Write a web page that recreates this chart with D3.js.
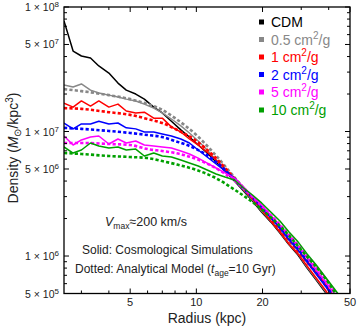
<!DOCTYPE html>
<html>
<head>
<meta charset="utf-8">
<script src="https://cdn.jsdelivr.net/npm/d3@7"></script>
<style>
  body { margin: 0; background: #fff; }
  svg { font-family: "Liberation Sans", Arial, sans-serif; }
</style>
</head>
<body>
<svg id="chart" width="357" height="333"></svg>
<script>
// radius grids (kpc)
const simRadius = [2.5, 2.75, 3.0, 3.3, 3.6, 4.0, 4.4, 4.8, 5.3, 5.8, 6.4, 7.0, 7.7, 8.5, 9.3, 10.2,
  11.2, 12.3, 13.5, 14.9, 16.4, 18.0, 19.8, 21.8, 24.0, 26.4, 29.0, 31.9, 35.1, 38.6, 42.5, 46.7];
const modelRadius = [2.5, 3, 4, 5, 6, 7, 8, 10, 12, 15, 20, 25, 30, 40, 50];

// solid: cosmological simulations (Msun/kpc^3)
const simCDM = [7.72e7, 4.43e7, 4.04e7, 3.89e7, 3.36e7, 2.95e7, 2.45e7, 2.15e7, 2.0e7, 1.82e7, 1.57e7, 1.41e7,
  1.21e7, 1.03e7, 9.03e6, 7.79e6, 6.72e6, 5.69e6, 4.82e6, 4.0e6, 3.33e6, 2.77e6, 2.26e6, 1.88e6, 1.53e6,
  1.23e6, 1.02e6, 8.0e5, 6.4e5, 5.1e5, 4.0e5, 3.2e5];
const sim05 = [2.36e7, 2.28e7, 2.41e7, 2.15e7, 2.04e7, 1.96e7, 1.89e7, 1.82e7, 1.76e7, 1.66e7, 1.54e7, 1.41e7,
  1.26e7, 1.11e7, 9.73e6, 8.39e6, 7.1e6, 5.9e6, 4.91e6, 4.08e6, 3.39e6, 2.82e6, 2.3e6, 1.91e6, 1.56e6,
  1.25e6, 1.04e6, 8.16e5, 6.54e5, 5.24e5, 4.12e5, 3.3e5];
const sim1 = [1.69e7, 1.57e7, 1.76e7, 1.6e7, 1.76e7, 1.57e7, 1.66e7, 1.46e7, 1.41e7, 1.43e7, 1.28e7, 1.28e7,
  1.09e7, 9.91e6, 8.71e6, 7.79e6, 6.84e6, 5.9e6, 5.0e6, 4.15e6, 3.45e6, 2.87e6, 2.34e6, 1.91e6, 1.56e6,
  1.25e6, 1.04e6, 8.31e5, 6.66e5, 5.33e5, 4.19e5, 3.36e5];
const sim2 = [1.17e7, 1.05e7, 1.15e7, 1.15e7, 1.21e7, 1.15e7, 1.17e7, 1.07e7, 1.05e7, 9.91e6, 9.91e6, 9.55e6,
  9.2e6, 8.71e6, 8.09e6, 7.1e6, 6.24e6, 5.48e6, 4.82e6, 4.23e6, 3.52e6, 2.98e6, 2.48e6, 2.06e6, 1.68e6,
  1.35e6, 1.12e6, 8.95e5, 7.17e5, 5.74e5, 4.6e5, 3.68e5];
const sim5 = [9.2e6, 7.79e6, 8.55e6, 9.03e6, 9.2e6, 7.94e6, 8.71e6, 8.09e6, 8.39e6, 7.79e6, 7.65e6, 7.51e6,
  7.37e6, 6.97e6, 6.6e6, 6.12e6, 5.58e6, 5.09e6, 4.65e6, 4.23e6, 3.58e6, 3.03e6, 2.57e6, 2.13e6, 1.77e6,
  1.45e6, 1.2e6, 9.64e5, 7.72e5, 6.18e5, 4.95e5, 3.97e5];
const sim10 = [7.51e6, 6.72e6, 7.1e6, 8.09e6, 7.65e6, 7.37e6, 7.51e6, 7.1e6, 7.23e6, 6.36e6, 6.72e6, 6.36e6,
  6.24e6, 5.9e6, 5.58e6, 5.28e6, 4.91e6, 4.56e6, 4.31e6, 4.08e6, 3.52e6, 3.09e6, 2.67e6, 2.26e6, 1.91e6,
  1.56e6, 1.3e6, 1.04e6, 8.47e5, 6.78e5, 5.43e5, 4.35e5];

// dotted: analytical model
const model05 = [2.19e7, 2.11e7, 1.96e7, 1.82e7, 1.66e7, 1.49e7, 1.28e7, 9.37e6, 6.72e6, 4.23e6, 2.38e6, 1.5e6, 1.02e6, 5.33e5, 2.74e5];
const model1 = [1.54e7, 1.52e7, 1.43e7, 1.36e7, 1.26e7, 1.17e7, 1.05e7, 8.39e6, 6.36e6, 4.15e6, 2.38e6, 1.5e6, 1.02e6, 5.33e5, 2.74e5];
const model2 = [1.07e7, 1.05e7, 1.01e7, 9.73e6, 9.37e6, 9.03e6, 8.39e6, 7.23e6, 5.9e6, 4.08e6, 2.43e6, 1.56e6, 1.06e6, 5.53e5, 2.84e5];
const model5 = [8.09e6, 8.09e6, 7.94e6, 7.79e6, 7.23e6, 6.97e6, 6.72e6, 6.01e6, 5.19e6, 4.0e6, 2.48e6, 1.65e6, 1.14e6, 6.07e5, 3.18e5];
const model10 = [6.72e6, 6.6e6, 6.36e6, 6.24e6, 6.12e6, 5.79e6, 5.48e6, 4.91e6, 4.31e6, 3.39e6, 2.34e6, 1.62e6, 1.12e6, 6.07e5, 3.18e5];

const legendLabels = ["CDM", "0.5", "1", "2", "5", "10"];
const colors = ["#000000", "#888888", "#ff0000", "#0000ff", "#ff00ff", "#00a000"];
const simSeries = [simCDM, sim05, sim1, sim2, sim5, sim10];
const modelSeries = [null, model05, model1, model2, model5, model10];

const xTicks = [5, 10, 20, 50];
const xMinor = [3, 4, 6, 7, 8, 9, 30, 40];
const yTicks = [[1, 8], [5, 7], [1, 7], [5, 6], [1, 6], [5, 5]];

const margin = { left: 64, right: 7, top: 7, bottom: 39.5 };
const W = 357, H = 333;

const svg = d3.select("#chart");

const x = d3.scaleLog().domain([2.5, 50]).range([margin.left, W - margin.right]);
const y = d3.scaleLog().domain([5e5, 1e8]).range([H - margin.bottom, margin.top]);

svg.append("clipPath").attr("id", "plot")
  .append("rect")
  .attr("x", margin.left).attr("y", margin.top)
  .attr("width", W - margin.left - margin.right)
  .attr("height", H - margin.top - margin.bottom);

const plot = svg.append("g").attr("clip-path", "url(#plot)");

const simLine = d3.line().x(d => x(d[0])).y(d => y(d[1]));
const modelLine = d3.line().x(d => x(d[0])).y(d => y(d[1])).curve(d3.curveMonotoneX);

simSeries.forEach((s, i) => {
  if (modelSeries[i]) {
    plot.append("path")
      .datum(modelRadius.map((r, j) => [r, modelSeries[i][j]]))
      .attr("d", modelLine)
      .attr("fill", "none")
      .attr("stroke", colors[i])
      .attr("stroke-width", 2.6)
      .attr("stroke-dasharray", "3.2,2.2");
  }
  plot.append("path")
    .datum(simRadius.map((r, j) => [r, s[j]]))
    .attr("d", simLine)
    .attr("fill", "none")
    .attr("stroke", colors[i])
    .attr("stroke-width", 1.5)
    .attr("stroke-linejoin", "round");
});

// frame and inward ticks (mirrored on top/right)
const x0 = margin.left, x1 = W - margin.right, y0 = margin.top, y1 = H - margin.bottom;
const ticks = svg.append("g").attr("stroke", "#000").attr("stroke-width", 1);

function xTick(v, len) {
  ticks.append("line").attr("x1", x(v)).attr("x2", x(v)).attr("y1", y1).attr("y2", y1 - len);
  ticks.append("line").attr("x1", x(v)).attr("x2", x(v)).attr("y1", y0).attr("y2", y0 + len);
}
function yTick(v, len) {
  ticks.append("line").attr("y1", y(v)).attr("y2", y(v)).attr("x1", x0).attr("x2", x0 + len);
  ticks.append("line").attr("y1", y(v)).attr("y2", y(v)).attr("x1", x1).attr("x2", x1 - len);
}
xTicks.forEach(v => xTick(v, 5));
xMinor.forEach(v => xTick(v, 3));
[5, 6, 7, 8].forEach(e => {
  for (let m = 1; m <= 9; m++) {
    const v = m * Math.pow(10, e);
    if (v < 5e5 || v > 1e8) continue;
    yTick(v, (m === 1 || m === 5) ? 5 : 3);
  }
});

svg.append("rect")
  .attr("x", x0).attr("y", y0)
  .attr("width", x1 - x0).attr("height", y1 - y0)
  .attr("fill", "none").attr("stroke", "#000").attr("stroke-width", 1.3);

// tick labels
svg.selectAll(".xl").data(xTicks).join("text")
  .attr("x", d => x(d)).attr("y", 306)
  .attr("text-anchor", "middle").attr("font-size", 11).attr("fill", "#222")
  .text(d => d);

yTicks.forEach(([m, e]) => {
  const t = svg.append("text")
    .attr("x", 59).attr("y", y(m * Math.pow(10, e)) + 4)
    .attr("text-anchor", "end").attr("font-size", 10.5).attr("fill", "#222");
  t.append("tspan").text(m + " \u00d7 10");
  t.append("tspan").attr("dy", -4).attr("font-size", 8).text(e);
});

// axis titles
svg.append("text")
  .attr("x", 207).attr("y", 323)
  .attr("text-anchor", "middle").attr("font-size", 14).attr("fill", "#222")
  .text("Radius (kpc)");

const yt = svg.append("text")
  .attr("transform", "translate(18,148) rotate(-90)")
  .attr("text-anchor", "middle").attr("font-size", 14).attr("fill", "#222");
yt.append("tspan").text("Density (");
yt.append("tspan").attr("font-style", "italic").text("M");
yt.append("tspan").attr("font-size", 10).attr("dy", 3).text("\u2299");
yt.append("tspan").attr("dy", -3).text("/kpc");
yt.append("tspan").attr("font-size", 10).attr("dy", -5).text("3");
yt.append("tspan").attr("dy", 5).text(")");

// legend
const legY = [22, 39.5, 57, 74.5, 92, 110];
legendLabels.forEach((lab, i) => {
  const g = svg.append("g");
  g.append("rect").attr("x", 259).attr("y", legY[i] - 2.5).attr("width", 5).attr("height", 5).attr("fill", colors[i]);
  const t = g.append("text").attr("x", 271).attr("y", legY[i] + 5)
    .attr("font-size", 14).attr("fill", colors[i]);
  if (i === 0) {
    t.text(lab);
  } else {
    t.append("tspan").text(lab + " cm");
    t.append("tspan").attr("dy", -6).attr("font-size", 10).text("2");
    t.append("tspan").attr("dy", 6).text("/g");
  }
});

// annotations
const vt = svg.append("text").attr("x", 105).attr("y", 226).attr("font-size", 12.5).attr("fill", "#222");
vt.append("tspan").attr("font-style", "italic").text("V");
vt.append("tspan").attr("font-size", 8.5).attr("dy", 3).text("max");
vt.append("tspan").attr("dy", -3).text("\u2248200 km/s");

svg.append("text").attr("x", 82).attr("y", 254).attr("font-size", 12).attr("fill", "#222")
  .text("Solid: Cosmological Simulations");

const dt = svg.append("text").attr("x", 75).attr("y", 273).attr("font-size", 12).attr("fill", "#222");
dt.append("tspan").text("Dotted: Analytical Model (");
dt.append("tspan").attr("font-style", "italic").text("t");
dt.append("tspan").attr("font-size", 8.5).attr("dy", 3).text("age");
dt.append("tspan").attr("dy", -3).text("=10 Gyr)");
</script>
</body>
</html>
